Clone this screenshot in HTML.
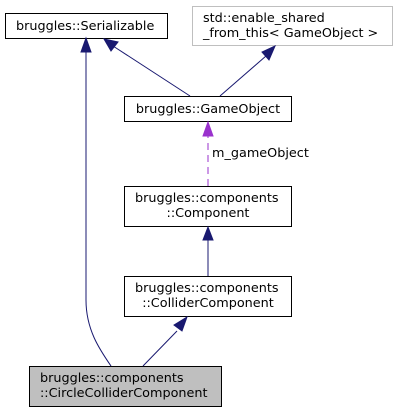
<!DOCTYPE html>
<html><head><style>body{margin:0;background:#fff}</style></head><body>
<svg width="400" height="413" xmlns="http://www.w3.org/2000/svg" style="font-family:'DejaVu Sans',sans-serif;font-size:12.8px">
<g stroke-width="1">
<rect x="5.5" y="13.5" width="162" height="25" fill="#fff" stroke="#000"/>
<rect x="192.5" y="6.5" width="200" height="39" fill="#fff" stroke="#bfbfbf"/>
<rect x="124.5" y="96.5" width="167" height="25" fill="#fff" stroke="#000"/>
<rect x="124.5" y="186.5" width="167" height="40" fill="#fff" stroke="#000"/>
<rect x="124.5" y="276.5" width="167" height="40" fill="#fff" stroke="#000"/>
<rect x="29.5" y="366.5" width="192" height="40" fill="#bfbfbf" stroke="#000"/>
</g>
<g fill="#000">
<text x="16" y="30">bruggles::Serializable</text>
<text x="203" y="22">std::enable_shared</text>
<text x="203" y="37">_from_this&lt; GameObject &gt;</text>
<text x="208" y="113" text-anchor="middle">bruggles::GameObject</text>
<text x="135" y="202">bruggles::components</text>
<text x="208" y="217" text-anchor="middle">::Component</text>
<text x="135" y="292">bruggles::components</text>
<text x="208" y="307" text-anchor="middle">::ColliderComponent</text>
<text x="40" y="382">bruggles::components</text>
<text x="40" y="397">::CircleColliderComponent</text>
<text x="212" y="157">m_gameObject</text>
</g>
<g stroke="#191970" fill="none">
<path d="M190,96 L113,46"/>
<path d="M220,96 L266,56"/>
<path d="M208,276 L208,240"/>
<path d="M143,366 L177,331"/>
<path d="M86,52 L86,300 C86,330 100,350 111,366"/>
</g>
<g fill="#191970" stroke="#191970">
<polygon points="104,39 118,42 111,51"/>
<polygon points="275,46 269,60 262,52"/>
<polygon points="208,227 213,240 203,240"/>
<polygon points="187,317 182,331 174,325"/>
<polygon points="86,38 91,52 81,52"/>
</g>
<path d="M208,186 L208,136" stroke="#9a32cd" stroke-dasharray="7,5" fill="none"/>
<polygon points="208,122 213,136 203,136" fill="#9a32cd" stroke="#9a32cd"/>
</svg>
</body></html>
